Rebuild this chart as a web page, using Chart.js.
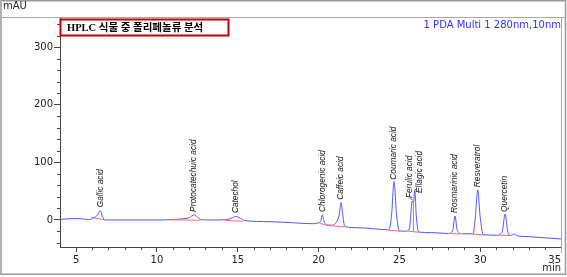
<!DOCTYPE html>
<html>
<head>
<meta charset="utf-8">
<script src="https://cdn.jsdelivr.net/npm/chart.js@4.4.1/dist/chart.umd.min.js"></script>
<style>
  html, body { margin: 0; padding: 0; background: #fff; }
  canvas { display: block; }
</style>
</head>
<body>
<canvas id="chart" width="567" height="277"></canvas>
<script>
// 280nm trace: retention time (min) and signal (mAU)
const traceTime = [4.0, 4.5, 5.0, 5.4, 5.77, 6.1, 6.3, 6.49, 6.62, 6.8, 8, 10, 10.9, 11.6, 12.0, 12.3, 12.5, 12.75,
  13.5, 14.3, 14.6, 14.88, 15.15, 15.4, 17, 18.5, 19.6, 19.98, 20.15, 20.24, 20.33, 20.5, 20.85, 21.1, 21.27, 21.39,
  21.5, 21.62, 22.5, 23.5, 24.35, 24.52, 24.67, 24.82, 25.0, 25.45, 25.62, 25.8, 25.87, 25.95, 26.05, 26.2, 27.0,
  28.0, 28.3, 28.44, 28.58, 28.9, 29.55, 29.7, 29.85, 30.0, 30.2, 31.0, 31.35, 31.54, 31.72, 31.9, 32.09, 32.3,
  33.0, 34.0, 35.0];
const traceSignal = [1, 2, 2.5, 2, 0.5, 4, 8, 16, 6, 0, 0, 0, 0.5, 2, 4, 9, 5, 0.5,
  0, 0.5, 3, 6, 3, -1, -3, -5, -6.5, -5, -1, 9, -2, -8.5, -9, -4, 8, 30,
  8, -11.5, -13.5, -15.5, -17, 10, 67, 10, -19, -19.5, -15, 33, 30, 52, 5, -21, -22,
  -23.5, -18, 7, -18, -24, -24, 5, 52, 5, -25.5, -26.5, -22, 10, -22, -27, -24.5, -27.5,
  -29, -31, -33];

// integration baselines (null breaks the line)
const baseTime = [5.95, 6.75, 6.75, 10.8, 12.7, 12.7, 14.2, 15.3, 15.3, 20.05, 20.45, 21.6, 21.6,
  24.3, 25.05, 25.05, 25.55, 26.25, 26.25, 25.87, 25.87, 25.87, 28.2, 28.75, 28.75, 29.5, 30.3, 30.3, 31.25, 31.95];
const baseSignal = [4.5, 0.3, null, 0.3, -0.5, null, -0.5, -2.5, null, -5.5, -9, -12, null,
  -17.5, -19.5, null, -19.5, -21.5, null, -20.5, 30, null, -23.5, -24.5, null, -24.5, -26, null, -26.5, -27];

// peak annotations
const compounds = ['Gallic acid', 'Protocatechuic acid', 'Catechol', 'Chlorogenic acid', 'Caffeic acid',
  'Coumaric acid', 'Ferulic acid', 'Ellagic acid', 'Rosmarinic acid', 'Resveratrol', 'Quercetin'];
const peakTime = [6.49, 12.3, 14.88, 20.24, 21.39, 24.67, 25.8, 25.95, 28.44, 29.85, 31.54];
const peakHeight = [16, 9, 6, 9, 30, 67, 33, 52, 7, 52, 10];
const labelTime = [6.49, 12.3, 14.88, 20.24, 21.39, 24.67, 25.63, 26.23, 28.44, 29.85, 31.54];
const labelBase = [22, 14, 12, 14, 35, 70, 38, 47, 12, 57, 14];

// axis ticks
const yTicks = [0, 100, 200, 300];
const xTicks = [4, 5, 10, 15, 20, 25, 30, 35];

const TRACE = '#5555ff';
const AXIS = '#444';

const decor = {
  id: 'decor',
  afterDraw(chart) {
    const { ctx, chartArea: area, scales: { x, y } } = chart;
    ctx.save();

    // minor ticks
    ctx.strokeStyle = AXIS;
    ctx.lineWidth = 1;
    ctx.beginPath();
    for (let v = -40; v <= 340; v += 20) {
      if (v % 100 === 0) continue;
      const py = Math.round(y.getPixelForValue(v)) + 0.5;
      ctx.moveTo(area.left - 3, py);
      ctx.lineTo(area.left, py);
    }
    for (let t = 6; t < 35; t++) {
      if (t % 5 === 0) continue;
      const px = Math.round(x.getPixelForValue(t)) + 0.5;
      ctx.moveTo(px, area.bottom);
      ctx.lineTo(px, area.bottom + 3);
    }
    ctx.stroke();

    // frames
    ctx.strokeStyle = '#999';
    ctx.lineWidth = 1.5;
    ctx.strokeRect(1, 0.75, 564.5, 273.5);
    ctx.lineWidth = 1;
    ctx.strokeStyle = '#aaa';
    ctx.beginPath();
    ctx.moveTo(1, 17.5);
    ctx.lineTo(565, 17.5);
    ctx.moveTo(Math.round(area.right) + 0.5, 17.5);
    ctx.lineTo(Math.round(area.right) + 0.5, area.bottom + 6);
    ctx.stroke();

    // peak names
    ctx.font = 'italic 8.3px "Liberation Sans"';
    ctx.fillStyle = '#111';
    ctx.textAlign = 'left';
    ctx.textBaseline = 'middle';
    compounds.forEach((name, i) => {
      const px = x.getPixelForValue(labelTime[i]);
      const py = y.getPixelForValue(labelBase[i]);
      ctx.save();
      ctx.translate(px, py);
      ctx.rotate(-Math.PI / 2);
      ctx.fillText(name, 0, 0);
      ctx.restore();
      if (labelTime[i] !== peakTime[i]) {
        ctx.strokeStyle = TRACE;
        ctx.beginPath();
        ctx.moveTo(x.getPixelForValue(peakTime[i]), y.getPixelForValue(peakHeight[i]) - 1);
        ctx.lineTo(px, py);
        ctx.stroke();
      }
    });

    // axis captions
    ctx.fillStyle = '#222';
    ctx.font = '10px "DejaVu Sans"';
    ctx.textBaseline = 'alphabetic';
    ctx.textAlign = 'left';
    ctx.fillText('mAU', 3, 9);
    ctx.textAlign = 'right';
    ctx.fillText('min', area.right, 271);

    ctx.fillStyle = '#3030ff';
    ctx.fillText('1 PDA Multi 1 280nm,10nm', area.right, 28);

    // title box
    ctx.fillStyle = '#fff';
    ctx.fillRect(60, 19, 168, 16);
    ctx.strokeStyle = '#c00000';
    ctx.lineWidth = 2;
    ctx.strokeRect(60.5, 19.5, 168, 16);
    ctx.fillStyle = '#000';
    ctx.textAlign = 'left';
    ctx.textBaseline = 'middle';
    ctx.font = 'bold 10.5px "Liberation Serif", "Noto Sans CJK KR"';
    ctx.fillText('HPLC 식물 중 폴리페놀류 분석', 67, 28);

    ctx.restore();
  }
};

new Chart(document.getElementById('chart'), {
  type: 'line',
  data: {
    datasets: [
      {
        data: traceTime.map((t, i) => ({ x: t, y: traceSignal[i] })),
        borderColor: TRACE,
        borderWidth: 1,
        pointRadius: 0,
        cubicInterpolationMode: 'monotone',
        order: 1
      },
      {
        data: baseTime.map((t, i) => ({ x: t, y: baseSignal[i] })),
        borderColor: '#ff6b6b',
        borderWidth: 1,
        pointRadius: 0,
        tension: 0,
        order: 0
      }
    ]
  },
  options: {
    responsive: false,
    animation: false,
    devicePixelRatio: 1,
    layout: { padding: { top: 18, right: 6, left: 0, bottom: 0 } },
    plugins: {
      legend: { display: false },
      tooltip: { enabled: false }
    },
    scales: {
      x: {
        type: 'linear',
        min: 4,
        max: 35,
        afterFit: (s) => { s.height = 30 },
        afterBuildTicks: (s) => { s.ticks = xTicks.map((v) => ({ value: v })) },
        grid: {
          drawOnChartArea: false,
          tickLength: 5,
          color: (c) => (c.tick && c.tick.value === 4 ? 'rgba(0,0,0,0)' : AXIS)
        },
        border: { color: AXIS },
        ticks: {
          align: 'inner',
          autoSkip: false,
          maxRotation: 0,
          padding: 2,
          color: '#222',
          font: { family: 'DejaVu Sans', size: 10 },
          callback: (v) => (v % 5 === 0 ? v : '')
        }
      },
      y: {
        min: -47,
        max: 351,
        afterFit: (s) => { s.width = 60 },
        afterBuildTicks: (s) => { s.ticks = yTicks.map((v) => ({ value: v })) },
        grid: { drawOnChartArea: false, tickLength: 6, color: AXIS },
        border: { color: AXIS },
        ticks: {
          padding: 1,
          color: '#222',
          font: { family: 'DejaVu Sans', size: 10 }
        }
      }
    }
  },
  plugins: [decor]
});
</script>
</body>
</html>
